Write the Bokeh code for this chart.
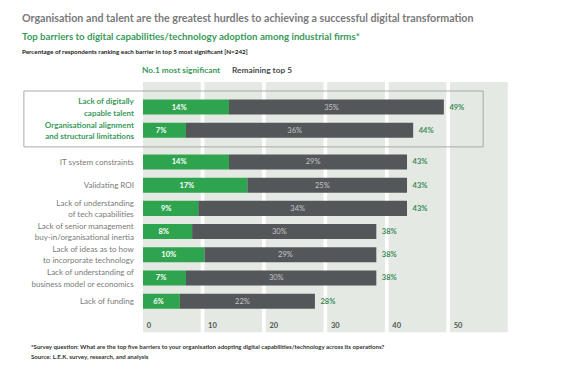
from bokeh.plotting import figure
from bokeh.models import Range1d, ColumnDataSource, Label
from bokeh.core.properties import value
from bokeh.embed import file_html
from bokeh.resources import INLINE

categories = [
    "Lack of digitally\ncapable talent",
    "Organisational alignment\nand structural limitations",
    "IT system constraints",
    "Validating ROI",
    "Lack of understanding\nof tech capabilities",
    "Lack of senior management\nbuy-in/organisational inertia",
    "Lack of ideas as to how\nto incorporate technology",
    "Lack of understanding of\nbusiness model or economics",
    "Lack of funding",
]
no1 = [14, 7, 14, 17, 9, 8, 10, 7, 6]
remaining = [35, 36, 29, 25, 34, 30, 29, 30, 22]
total = [49, 44, 43, 43, 43, 38, 38, 38, 28]
ticks = [0, 10, 20, 30, 40, 50]
highlighted = 2

FONT = "Lato"
GREEN = "#2ea44f"
DGREEN = "#3a9a5a"
GRAY_BAR = "#53575a"
BAND = "#e4e9e3"

OFF = 1.5  # observed page offset
W, H = 562, 364
px_per_unit = 6.14
x0_px = 144 - OFF
row_px = 23.2
r0_px = 108 - OFF

x_start = -x0_px / px_per_unit
x_end = (W - x0_px) / px_per_unit
y_top = -r0_px / row_px
y_bot = (H - r0_px) / row_px

p = figure(width=W, height=H, output_backend="svg", toolbar_location=None,
           x_range=Range1d(x_start, x_end), y_range=Range1d(y_bot, y_top),
           min_border=0, x_axis_location=None, y_axis_location=None)
p.grid.visible = False
p.outline_line_color = None
p.background_fill_color = "white"

# row positions (extra gap after the highlighted group)
ys = [i if i < highlighted else i + 0.37 for i in range(len(categories))]
tick_row = ys[-1] + 1.04

# background bands
p.quad(left=[t for t in ticks], right=[t + 9.4 for t in ticks],
       top=[-1.08] * len(ticks), bottom=[tick_row + 0.3] * len(ticks),
       fill_color=BAND, line_color=None)

# highlight box
p.quad(left=[-19.4], right=[55.4], top=[-0.69], bottom=[1.72],
       fill_color=None, line_color="#a8aaa8", line_width=1)

src = ColumnDataSource(dict(
    y=ys, no1=no1, total=total, zero=[0] * len(ys),
    glab=[f"{v}%" for v in no1], rlab=[f"{v}%" for v in remaining],
    tlab=[f"{v}%" for v in total],
    gx=[v * 0.42 for v in no1],
    rx=[(a + b) / 2 - 0.8 for a, b in zip(no1, total)],
    tx=[v + 0.9 for v in total],
    cat=categories,
    ccol=[DGREEN if i < highlighted else "#7a7a7a" for i in range(len(ys))],
    cstyle=["bold" if i < highlighted else "normal" for i in range(len(ys))],
))

p.hbar(y="y", left="zero", right="no1", height=0.65, source=src,
       fill_color=GREEN, line_color=None)
p.hbar(y="y", left="no1", right="total", height=0.65, source=src,
       fill_color=GRAY_BAR, line_color=None)

p.text(x="gx", y="y", text="glab", source=src, text_color="white",
       text_font=value(FONT), text_font_size="7.5px", text_font_style="bold",
       text_align="center", text_baseline="middle")
p.text(x="rx", y="y", text="rlab", source=src, text_color="#c4c6c6",
       text_font=value(FONT), text_font_size="7.5px",
       text_align="center", text_baseline="middle")
p.text(x="tx", y="y", text="tlab", source=src, text_color="#3d8a58",
       text_font=value(FONT), text_font_size="7.5px", text_font_style="bold",
       text_align="left", text_baseline="middle")
p.text(x=-1.47, y="y", text="cat", source=src, text_color="ccol",
       text_font=value(FONT), text_font_size="8px", text_font_style="cstyle",
       text_align="right", text_baseline="middle", text_line_height=1.12)

# tick labels
p.text(x=[t + 0.6 for t in ticks], y=[tick_row] * len(ticks),
       text=[str(t) for t in ticks], text_color="#555555",
       text_font=value(FONT), text_font_size="7.5px", text_font_style="bold",
       text_align="left", text_baseline="middle")

def label(x, y, text, size, color, style="bold"):
    p.add_layout(Label(x=x - OFF, y=H + OFF - y, x_units="screen", y_units="screen",
                       text=text, text_font=FONT, text_font_size=size,
                       text_color=color, text_font_style=style,
                       text_baseline="middle", text_align="left"))

label(23, 18, "Organisation and talent are the greatest hurdles to achieving a successful digital transformation",
      "10.7px", "#7a7a7a")
label(23, 37, "Top barriers to digital capabilities/technology adoption among industrial firms*",
      "9.7px", DGREEN)
label(23, 52, "Percentage of respondents ranking each barrier in top 5 most significant [N=242]",
      "6.3px", "#222222")
label(143, 71, "No.1 most significant", "8.3px", DGREEN)
label(233, 71, "Remaining top 5", "8.3px", "#4a4a4a")
label(32, 347, "*Survey question: What are the top five barriers to your organisation adopting digital capabilities/technology across its operations?",
      "6.1px", "#333333")
label(32, 357, "Source:   L.E.K. survey, research, and analysis", "6.1px", "#333333")

open("out.html", "w").write(file_html(p, INLINE))
